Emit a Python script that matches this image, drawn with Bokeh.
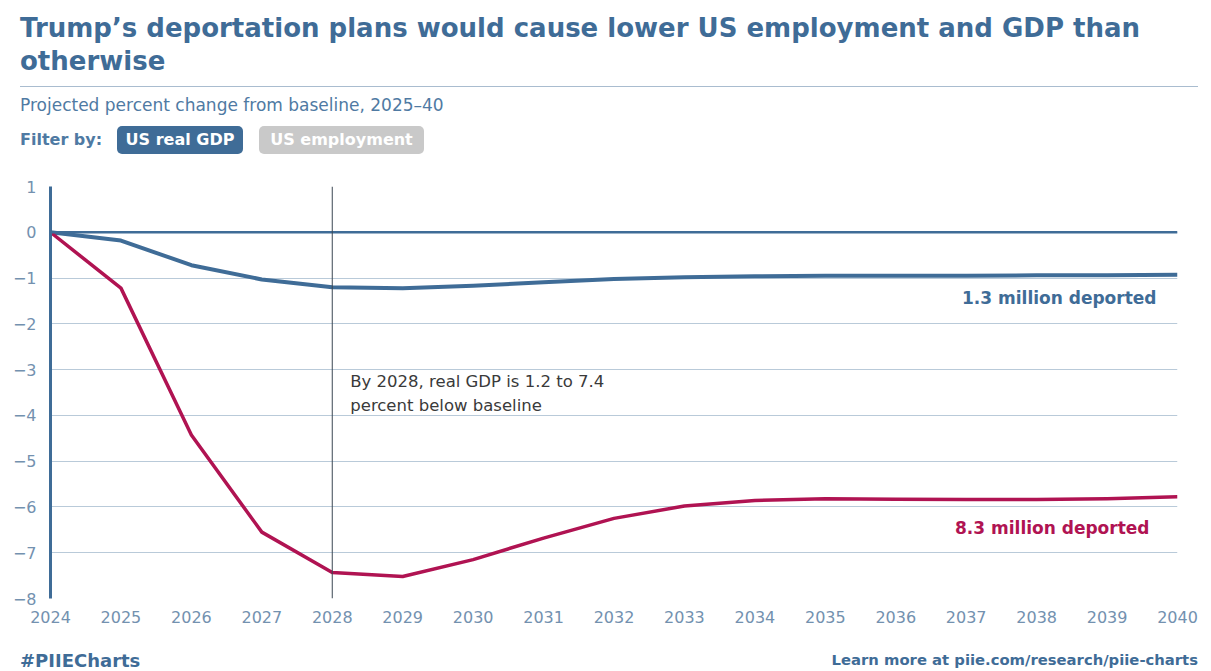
from bokeh.plotting import figure
from bokeh.models import Div, Span, Label, FixedTicker, Range1d
from bokeh.layouts import column
from bokeh.embed import file_html
from bokeh.resources import INLINE

# ---- data ----
years = list(range(2024, 2041))
gdp_1_3m = [0, -0.18, -0.72, -1.03, -1.20, -1.22, -1.17, -1.09, -1.02, -0.98,
            -0.96, -0.95, -0.95, -0.95, -0.94, -0.94, -0.93]
gdp_8_3m = [0, -1.22, -4.43, -6.55, -7.43, -7.52, -7.15, -6.68, -6.25, -5.98,
            -5.86, -5.82, -5.83, -5.84, -5.84, -5.82, -5.78]
y_ticks = [1, 0, -1, -2, -3, -4, -5, -6, -7, -8]
series_labels = ["1.3 million deported", "8.3 million deported"]
title = "Trump’s deportation plans would cause lower US employment and GDP than otherwise"
subtitle = "Projected percent change from baseline, 2025–40"
note_lines = ["By 2028, real GDP is 1.2 to 7.4", "percent below baseline"]
note_year = 2028

BLUE = "#3f6c97"
RED = "#b01352"
FONT = "DejaVu Sans"

header = Div(width=1203, height=170, margin=0, text=f"""
<div style="position:relative;width:1203px;height:170px;font-family:'{FONT}';">
  <div style="position:absolute;left:20px;top:12px;width:1180px;font-size:26px;line-height:33px;font-weight:700;color:{BLUE};">{title}</div>
  <div style="position:absolute;left:20px;top:86px;width:1178px;height:1px;background:#a9bccf;"></div>
  <div style="position:absolute;left:20px;top:94px;font-size:17px;line-height:22px;color:#4f7aa3;">{subtitle}</div>
  <div style="position:absolute;left:20px;top:129px;font-size:16px;line-height:22px;font-weight:700;color:#4f7aa3;">Filter by:</div>
  <div style="position:absolute;left:117px;top:126px;width:126px;height:28px;line-height:28px;border-radius:5px;background:{BLUE};color:#fff;font-size:16px;font-weight:700;text-align:center;">US real GDP</div>
  <div style="position:absolute;left:259px;top:126px;width:165px;height:28px;line-height:28px;border-radius:5px;background:#c9c9c9;color:#fff;font-size:16px;font-weight:700;text-align:center;">US employment</div>
</div>""")

p = figure(width=1203, height=460, output_backend="svg", toolbar_location=None,
           x_range=Range1d(2024, 2040), y_range=Range1d(-8, 1),
           min_border_left=50, min_border_right=26, min_border_top=16, min_border_bottom=32)
p.outline_line_color = None
p.background_fill_color = "white"

p.xaxis.ticker = FixedTicker(ticks=years)
p.yaxis.ticker = FixedTicker(ticks=y_ticks)
p.yaxis.major_label_overrides = {t: (str(t) if t >= 0 else "−" + str(-t)) for t in y_ticks}
for ax in (p.xaxis, p.yaxis):
    ax.major_tick_line_color = None
    ax.minor_tick_line_color = None
    ax.major_label_text_font = FONT
    ax.major_label_text_font_size = "16px"
    ax.major_label_text_color = "#7391af"
p.xaxis.axis_line_color = None
p.xaxis.major_label_standoff = 6
p.yaxis.axis_line_color = BLUE
p.yaxis.axis_line_width = 3
p.yaxis.major_label_standoff = 8
p.xgrid.grid_line_color = None
p.ygrid.grid_line_color = "#b9cad9"
p.ygrid.grid_line_width = 1

p.add_layout(Span(location=0, dimension="width", line_color=BLUE, line_width=2.5))
p.add_layout(Span(location=note_year, dimension="height", line_color="#3b4753", line_width=1))

p.line(years, gdp_1_3m, line_color=BLUE, line_width=4, line_join="round")
p.line(years, gdp_8_3m, line_color=RED, line_width=3.5, line_join="round")

p.add_layout(Label(x=years[-1], y=gdp_1_3m[-1], x_offset=-21, y_offset=-23,
                   text=series_labels[0], text_align="right", text_baseline="middle",
                   text_font=FONT, text_font_size="17px", text_font_style="bold", text_color=BLUE))
p.add_layout(Label(x=years[-1], y=gdp_8_3m[-1], x_offset=-28, y_offset=-31,
                   text=series_labels[1], text_align="right", text_baseline="middle",
                   text_font=FONT, text_font_size="17px", text_font_style="bold", text_color=RED))
for i, ln in enumerate(note_lines):
    p.add_layout(Label(x=note_year, y=-3.26, x_offset=18, y_offset=-24 * i,
                       text=ln, text_align="left", text_baseline="middle",
                       text_font=FONT, text_font_size="16.5px", text_color="#3a3a3a"))

footer = Div(width=1203, height=33, margin=0, text=f"""
<div style="position:relative;width:1203px;height:33px;font-family:'{FONT}';">
  <div style="position:absolute;left:20px;top:19px;font-size:18px;line-height:24px;font-weight:700;color:{BLUE};">#PIIECharts</div>
  <div style="position:absolute;right:5px;top:20px;font-size:14.8px;line-height:20px;font-weight:700;color:{BLUE};">Learn more at piie.com/research/piie-charts</div>
</div>""")

layout = column(header, p, footer, spacing=0)
open("out.html", "w").write(file_html(layout, INLINE))
